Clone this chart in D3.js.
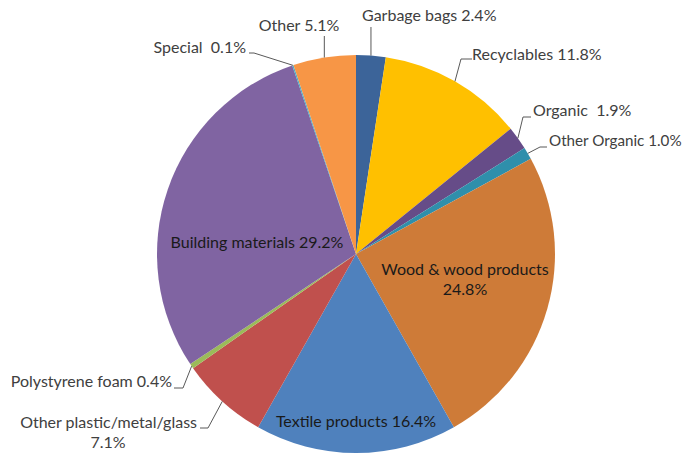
<!DOCTYPE html>
<html>
<head>
<meta charset="utf-8">
<script src="https://cdn.jsdelivr.net/npm/d3@7"></script>
<style>
  html, body { margin: 0; padding: 0; background: #ffffff; }
  svg { display: block; }
  text { font-family: Lato, "Open Sans", sans-serif; white-space: pre; }
</style>
</head>
<body>
<svg id="chart" width="685" height="454"></svg>
<script>
// Waste composition by category, clockwise from 12 o'clock
const categories = [
  "Garbage bags", "Recyclables", "Organic", "Other Organic",
  "Wood & wood products", "Textile products", "Other plastic/metal/glass",
  "Polystyrene foam", "Building materials", "Special", "Other"
];
const shares = [2.4, 11.8, 1.9, 1.0, 24.8, 16.4, 7.1, 0.4, 29.2, 0.1, 5.1];
const valueLabels = ["2.4%", "11.8%", "1.9%", "1.0%", "24.8%", "16.4%", "7.1%", "0.4%", "29.2%", "0.1%", "5.1%"];
const sliceColors = [
  "#3c6499", "#ffc000", "#664c88", "#2f8fab",
  "#ce7b38", "#4f81bd", "#c0504d",
  "#9bbb59", "#8064a2", "#4bacc6", "#f79646"
];

// Label placement: text lines, anchor point relative to the pie centre,
// and for outside labels the elbow of the leader line.
const labelLayout = [
  { lines: ["Garbage bags 2.4%"], x: 6, y: -233, anchor: "start", outside: true, elbow: null, lineTop: -227 },
  { lines: ["Recyclables 11.8%"], x: 116, y: -194, anchor: "start", outside: true, elbow: [[116, -195], [105, -195]] },
  { lines: ["Organic  1.9%"], x: 177, y: -138, anchor: "start", outside: true, elbow: [[175, -137], [167, -137]] },
  { lines: ["Other Organic 1.0%"], x: 193, y: -108, anchor: "start", outside: true, elbow: [[191, -107], [184, -107]], size: 15.2 },
  { lines: ["Wood & wood products", "24.8%"], x: 109, y: 21, anchor: "middle", outside: false },
  { lines: ["Textile products 16.4%"], x: 0, y: 173, anchor: "middle", outside: false },
  { lines: ["Other plastic/metal/glass", "7.1%"], x: -159, y: 174, anchor: "middle", outside: true, elbow: [[-156, 174], [-148, 174]] },
  { lines: ["Polystyrene foam 0.4%"], x: -184, y: 133, anchor: "end", outside: true, elbow: [[-182, 134], [-173, 134]] },
  { lines: ["Building materials 29.2%"], x: -99, y: -6, anchor: "middle", outside: false },
  { lines: ["Special  0.1%"], x: -110, y: -201, anchor: "end", outside: true, elbow: [[-107, -201], [-102, -201]] },
  { lines: ["Other 5.1%"], x: -57, y: -223, anchor: "middle", outside: true, elbow: null, lineTop: -218 }
];

const width = 685, height = 454;
const cx = 356, cy = 254, radius = 199;
const lineHeight = 20;

const svg = d3.select("#chart");
const g = svg.append("g").attr("transform", `translate(${cx},${cy})`);

const data = categories.map((c, i) => ({ name: c, value: shares[i], color: sliceColors[i], label: labelLayout[i] }));

const pie = d3.pie().value(d => d.value).sort(null);
const arcs = pie(data);
const arc = d3.arc().innerRadius(0).outerRadius(radius);
const edgeArc = d3.arc().innerRadius(radius).outerRadius(radius);

// slices
g.selectAll("path.slice")
  .data(arcs)
  .join("path")
  .attr("class", "slice")
  .attr("d", arc)
  .attr("fill", d => d.data.color);

// leader lines for labels placed outside the pie
g.selectAll("path.leader")
  .data(arcs.filter(d => d.data.label.outside))
  .join("path")
  .attr("class", "leader")
  .attr("fill", "none")
  .attr("stroke", "#595959")
  .attr("stroke-width", 1)
  .attr("d", d => {
    const p = edgeArc.centroid(d);
    const L = d.data.label;
    if (L.elbow) {
      return d3.line()([L.elbow[0], L.elbow[1], p]);
    }
    return d3.line()([[p[0], L.lineTop], p]);
  });

// labels
const labels = g.selectAll("text.lbl")
  .data(arcs)
  .join("text")
  .attr("class", "lbl")
  .attr("text-anchor", d => d.data.label.anchor)
  .attr("font-size", d => d.data.label.size || 16)
  .attr("fill", d => d.data.label.outside ? "#404040" : "#1a1a1a");

labels.each(function(d) {
  const L = d.data.label;
  const t = d3.select(this);
  L.lines.forEach((line, k) => {
    const span = t.append("tspan")
      .attr("y", L.y + k * lineHeight)
      .text(line);
    // multi-line outside label: first line right-aligned to the leader, second centred beneath
    if (L.outside && L.lines.length > 1) {
      if (k === 0) span.attr("x", L.x).attr("text-anchor", "end");
      else span.attr("x", -248).attr("text-anchor", "middle");
    } else {
      span.attr("x", L.x);
    }
  });
});
</script>
</body>
</html>
